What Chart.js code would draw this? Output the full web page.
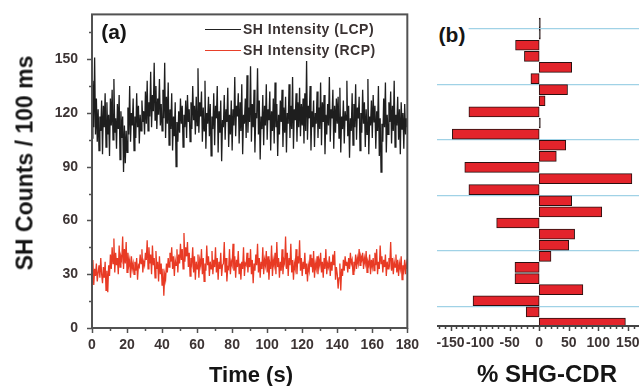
<!DOCTYPE html>
<html>
<head>
<meta charset="utf-8">
<script src="https://cdn.jsdelivr.net/npm/chart.js@4/dist/chart.umd.min.js"></script>
<style>
  html, body { margin:0; padding:0; background:#fff; overflow:hidden; }
  #wrap { position:relative; width:639px; height:386px; overflow:hidden; font-family:"Liberation Sans", Arial, sans-serif; }
  canvas { position:absolute; top:0; }
  .t { position:absolute; white-space:nowrap; line-height:1; transform:translate(-50%,-50%); font-weight:bold; color:#151515; }
  .lg { position:absolute; white-space:nowrap; line-height:1; transform:translateY(-50%); font-weight:bold; font-size:14px; letter-spacing:0.5px; color:#3a3232; }
  .ln { position:absolute; height:0; }
</style>
</head>
<body>
<div id="wrap">
  <canvas id="ca" width="420" height="386" style="left:0"></canvas>
  <canvas id="cb" width="232" height="386" style="left:420px"></canvas>
  <div class="t" style="left:25px;top:163px;font-size:23px;transform:translate(-50%,-50%) rotate(-90deg);">SH Counts / 100 ms</div>
  <div class="t" style="left:251px;top:375px;font-size:22px;">Time (s)</div>
  <div class="t" style="left:547px;top:374px;font-size:24px;">% SHG-CDR</div>
  <div class="t" style="left:114px;top:31px;font-size:21px;">(a)</div>
  <div class="t" style="left:452px;top:34px;font-size:21px;background:#fff;padding:1px 3px;">(b)</div>
  <div class="ln" style="left:205px;top:29px;width:36px;border-top:1.5px solid #222;"></div>
  <div class="ln" style="left:205px;top:50px;width:36px;border-top:1.5px solid #e8402a;"></div>
  <div class="lg" style="left:243px;top:29px;">SH Intensity (LCP)</div>
  <div class="lg" style="left:243px;top:50px;">SH Intensity (RCP)</div>
</div>
<script>
// ---- Panel (a): SH counts per 100 ms vs time, sampled every 0.5 s ----
const lcp = [
106,138,112,151,108,128,104,122,99,118,110,127,97,124,112,131,101,126,108,119,
96,128,113,133,105,139,109,117,100,125,111,130,94,121,106,118,87,113,92,110,
98,123,108,135,104,120,113,128,99,118,106,131,112,124,103,119,110,127,115,121,
108,132,114,138,110,126,118,143,112,130,121,148,116,135,111,128,119,139,113,125,
110,133,117,148,106,129,114,137,102,122,111,131,99,118,107,126,90,115,104,121,
109,128,114,124,101,119,112,127,106,130,115,122,104,126,111,135,116,124,108,129,
113,145,109,126,118,132,104,123,110,138,100,120,114,129,107,125,96,118,111,131,
102,124,117,135,98,121,109,127,93,116,112,130,105,122,115,134,101,119,108,127,
99,122,113,140,107,124,118,131,103,126,110,136,97,119,114,128,106,141,109,123,
115,146,104,125,112,133,98,120,117,145,108,127,94,118,111,130,102,124,113,136,
105,122,116,132,99,121,110,128,103,137,112,125,96,119,108,127,115,133,101,123,
109,129,98,120,114,136,106,124,111,140,100,122,116,131,104,126,112,134,107,125,
113,128,103,131,110,149,105,124,117,135,99,121,112,127,101,120,114,132,106,123,
111,137,102,126,115,130,97,119,108,125,113,140,104,122,117,133,100,124,109,128,
114,129,106,134,98,118,111,127,103,121,116,138,107,124,95,117,110,131,102,125,
112,136,105,123,117,129,99,120,109,133,114,126,101,122,108,139,97,118,113,127,
106,130,115,124,100,121,110,135,96,117,87,114,104,128,112,137,98,119,108,126,
115,132,103,124,110,138,101,119,113,129,105,122,97,126,111,120,100,125,108,117,
112
];
const rcp = [
27,38,24,33,29,36,26,31,35,28,39,30,25,34,28,37,21,32,20,35,
29,41,33,45,36,50,31,42,35,39,30,46,34,40,38,51,33,44,36,48,
31,42,35,38,28,40,33,36,30,37,32,39,27,35,34,41,36,44,31,37,
35,42,38,49,33,45,36,41,30,46,35,39,28,43,33,37,26,40,30,36,
24,33,18,30,27,36,31,39,34,42,37,45,33,40,29,38,35,44,31,41,
36,47,38,44,33,53,37,45,40,48,34,42,29,39,36,45,31,40,27,37,
33,41,28,38,35,44,30,39,26,36,32,46,35,40,29,37,33,43,30,38,
34,45,31,39,27,37,33,42,29,35,36,48,31,39,26,34,33,44,30,37,
35,47,32,40,28,38,34,43,30,36,27,37,33,45,29,36,35,42,31,39,
34,44,30,38,25,36,32,41,35,47,31,39,28,37,33,45,30,38,35,43,
31,40,27,36,33,46,29,38,35,42,30,48,34,39,28,37,32,44,30,38,
36,51,33,42,29,39,35,47,31,38,27,36,33,44,30,40,36,49,32,39,
29,37,33,42,30,36,26,35,32,41,34,39,31,43,28,36,33,40,30,38,
35,42,31,37,28,39,33,44,30,36,34,40,29,37,32,41,35,43,27,34,
30,22,28,36,21,33,29,38,32,40,35,37,31,39,33,42,36,38,30,37,
34,41,33,39,36,44,35,40,38,42,33,39,36,43,31,37,35,41,30,38,
34,39,32,42,35,44,30,37,33,46,36,40,31,38,34,41,29,37,33,39,
36,48,32,39,30,37,34,41,31,38,29,36,33,40,27,35,32,38,30,36,
33
];
const timeMax = 180;
const xTicksA = [0,20,40,60,80,100,120,140,160,180];
const yTicksA = [0,30,60,90,120,150];

// ---- Panel (b): % SHG-CDR per measurement (top to bottom) ----
const cdrIndex = [1,2,3,4,5,6,7,8,9,10,11,12,13,14,15,16,17,18,19,20,21,22,23,24,25,26,27,28];
const cdr = [2,2,-40,-25,55,-14,48,10,-119,2,-147,45,29,-126,157,-119,55,106,-72,60,50,20,-41,-41,74,-112,-22,146];
const xTicksB = [-150,-100,-50,0,50,100,150];
const gridB = [1.5,6.5,11.5,16.5,21.5,26.5];

const tickFont = { family: '"Liberation Sans", Arial, sans-serif', size: 14, weight: 'bold' };
const tickColor = '#3c3434';

const axisPlugin = {
  id: 'axisDeco',
  afterDraw(chart, args, o) {
    const ctx = chart.ctx, ca = chart.chartArea;
    ctx.save();
    ctx.strokeStyle = o.color; ctx.lineWidth = o.width;
    if (o.frame) ctx.strokeRect(ca.left, ca.top, ca.right - ca.left, ca.bottom - ca.top);
    if (o.bottomLine) { ctx.beginPath(); ctx.moveTo(ca.left, ca.bottom); ctx.lineTo(ca.right, ca.bottom); ctx.stroke(); }
    ctx.lineWidth = 1.5;
    (o.axes || []).forEach(a => {
      const s = chart.scales[a.id];
      for (let v = a.from; v <= a.to + 1e-9; v += a.minor) {
        const major = Math.round(v) % a.major === 0;
        const len = major ? a.majorLen : a.minorLen;
        const p = Math.round(s.getPixelForValue(v)) + 0.5;
        ctx.beginPath();
        if (a.id === 'x') { ctx.moveTo(p, ca.bottom); ctx.lineTo(p, ca.bottom + len); }
        else { ctx.moveTo(ca.left, p); ctx.lineTo(ca.left - len, p); }
        ctx.stroke();
      }
    });
    ctx.restore();
  }
};

const n = lcp.length;
new Chart(document.getElementById('ca'), {
  type: 'line',
  data: {
    datasets: [
      { data: lcp.map((v, i) => ({ x: i * timeMax / (n - 1), y: v })), borderColor: '#1e1e1e', borderWidth: 1.3, pointRadius: 0, tension: 0 },
      { data: rcp.map((v, i) => ({ x: i * timeMax / (rcp.length - 1), y: v })), borderColor: 'rgb(232,58,36)', borderWidth: 1.3, pointRadius: 0, tension: 0 }
    ]
  },
  options: {
    responsive: false, animation: false, devicePixelRatio: 1,
    layout: { padding: { left: 0, top: 14, right: 12, bottom: 0 } },
    plugins: {
      legend: { display: false }, tooltip: { enabled: false },
      axisDeco: { color: '#525252', width: 2, frame: true,
        axes: [ { id: 'x', from: 0, to: 180, minor: 10, major: 20, majorLen: 5, minorLen: 3 },
                { id: 'y', from: 0, to: 165, minor: 15, major: 30, majorLen: 5, minorLen: 3 } ] }
    },
    scales: {
      x: { type: 'linear', min: 0, max: timeMax,
        afterBuildTicks: s => { s.ticks = xTicksA.map(v => ({ value: v })); },
        afterFit: s => { s.height = 58; },
        grid: { display: false }, border: { display: false },
        ticks: { font: tickFont, color: tickColor, padding: 1, maxRotation: 0, autoSkip: false } },
      y: { type: 'linear', min: 0, max: 175,
        afterBuildTicks: s => { s.ticks = yTicksA.map(v => ({ value: v })); },
        afterFit: s => { s.width = 92; },
        grid: { display: false }, border: { display: false },
        ticks: { font: tickFont, color: tickColor, padding: 6 } }
    }
  },
  plugins: [axisPlugin]
});

new Chart(document.getElementById('cb'), {
  type: 'bar',
  data: {
    datasets: [{
      data: cdr.map((v, i) => ({ x: v, y: cdrIndex[i] })),
      backgroundColor: c => (Math.abs(c.raw.x) < 5 ? '#222' : '#e3242b'),
      borderColor: '#2a1010', borderWidth: 1, borderSkipped: false, barThickness: 10
    }]
  },
  options: {
    indexAxis: 'y',
    responsive: false, animation: false, devicePixelRatio: 1,
    layout: { padding: { left: 17, top: 14, right: 13, bottom: 0 } },
    plugins: {
      legend: { display: false }, tooltip: { enabled: false },
      axisDeco: { color: '#444', width: 2, frame: false, bottomLine: true,
        axes: [ { id: 'x', from: -170, to: 160, minor: 10, major: 50, majorLen: 5, minorLen: 3 } ] }
    },
    scales: {
      x: { type: 'linear', min: -173, max: 169,
        afterBuildTicks: s => { s.ticks = xTicksB.map(v => ({ value: v })); },
        afterFit: s => { s.height = 60; },
        grid: { display: false }, border: { display: false },
        ticks: { font: tickFont, color: tickColor, padding: 1, maxRotation: 0, autoSkip: false } },
      y: { type: 'linear', reverse: true, min: 0.19, max: 28.27, offset: false,
        afterBuildTicks: s => { s.ticks = gridB.map(v => ({ value: v })); },
        afterFit: s => { s.width = 0; },
        grid: { display: true, offset: false, color: 'rgb(160,210,230)', lineWidth: 1.2, drawTicks: false },
        border: { display: false },
        ticks: { display: false } }
    }
  },
  plugins: [axisPlugin]
});
</script>
</body>
</html>
